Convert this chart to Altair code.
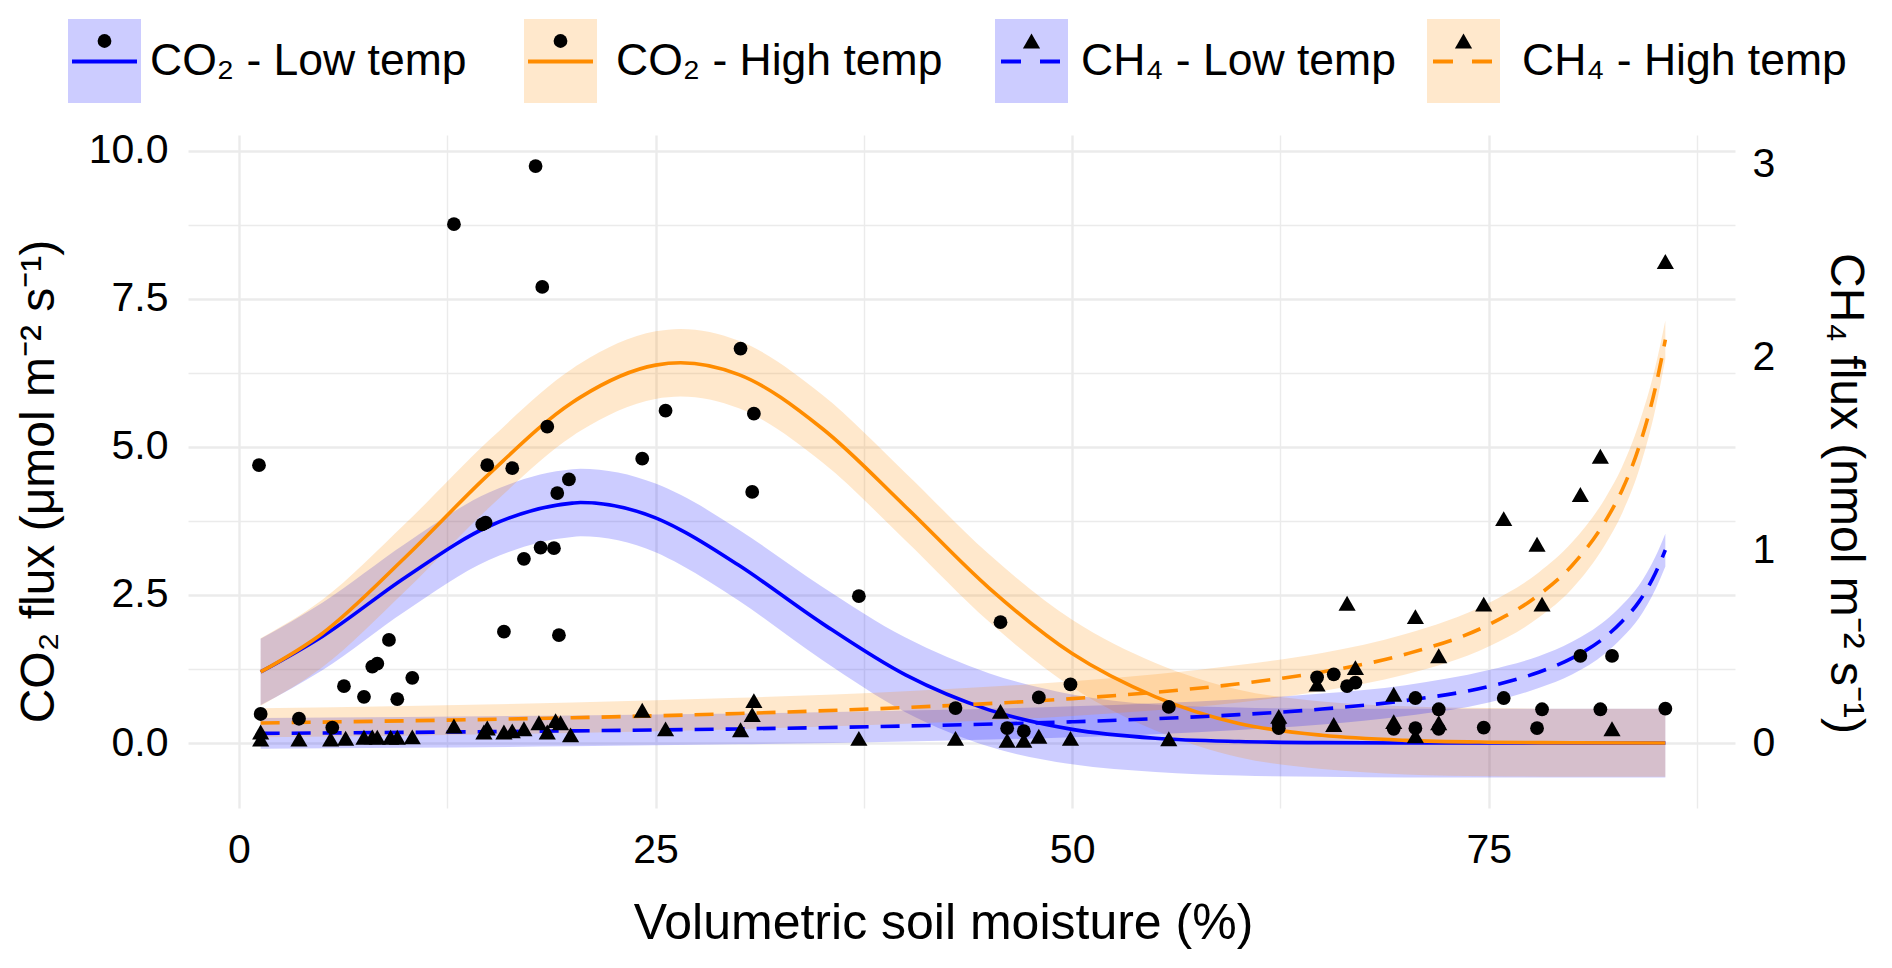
import altair as alt
import pandas as pd

co2_moist = [1.2, 1.3, 3.6, 5.6, 6.3, 7.5, 8.0, 8.3, 9.0, 9.5,
             10.4, 12.9, 14.6, 14.8, 14.9, 15.9, 16.4, 17.1, 17.8, 18.1,
             18.2, 18.5, 18.9, 19.1, 19.2, 19.8, 24.2, 25.6, 30.1, 30.8,
             30.9, 37.2, 43.0, 45.7, 46.1, 47.1, 48.0, 49.9, 55.8, 62.4,
             62.4, 64.7, 65.7, 66.5, 67.0, 69.3, 70.6, 70.6, 72.0, 72.0,
             74.7, 75.9, 77.9, 78.2, 80.5, 81.7, 82.4, 85.6]
co2_flux = [4.69, 0.49, 0.41, 0.26, 0.96, 0.78, 1.29, 1.34, 1.74, 0.74,
            1.10, 8.76, 3.69, 3.72, 4.69, 1.88, 4.64, 3.11, 9.74, 3.30,
            7.70, 5.34, 3.29, 4.22, 1.82, 4.45, 4.80, 5.61, 6.66, 4.24,
            5.56, 2.48, 0.59, 2.04, 0.25, 0.20, 0.77, 0.99, 0.61, 0.25,
            0.32, 1.11, 1.16, 0.96, 1.02, 0.24, 0.76, 0.25, 0.57, 0.24,
            0.26, 0.76, 0.25, 0.57, 1.47, 0.57, 1.47, 0.58]

ch4_moist = [1.3, 1.3, 3.6, 5.5, 6.4, 7.5, 8.0, 8.3, 9.1, 9.5,
             10.4, 12.9, 14.7, 14.9, 15.9, 16.4, 17.1, 18.0, 18.5, 19.0,
             19.3, 19.9, 24.2, 25.6, 30.1, 30.8, 30.9, 37.2, 43.0, 45.7,
             46.1, 47.1, 48.0, 49.9, 55.8, 62.4, 64.7, 65.7, 66.5, 67.0,
             69.3, 69.3, 70.6, 70.6, 72.0, 72.0, 74.7, 75.9, 77.9, 78.2,
             80.5, 81.7, 82.4, 85.6]
ch4_flux = [0.057, 0.020, 0.020, 0.020, 0.025, 0.030, 0.032, 0.030, 0.030, 0.030,
            0.032, 0.088, 0.057, 0.078, 0.057, 0.063, 0.074, 0.105, 0.057, 0.116,
            0.105, 0.042, 0.170, 0.073, 0.069, 0.147, 0.220, 0.024, 0.024, 0.164,
            0.014, 0.014, 0.035, 0.024, 0.022, 0.138, 0.305, 0.096, 0.724, 0.391,
            0.253, 0.111, 0.655, 0.037, 0.452, 0.105, 0.720, 1.163, 1.030, 0.720,
            1.288, 1.486, 0.074, 2.495]

# ---------------- fitted curves and bands ----------------
co2_fit_x = [1.3, 5, 10, 15, 20, 20.5, 25, 26.5, 30, 35,
             40, 45, 50, 55, 60, 65, 70, 75, 80, 85.6]
co2_low_fit = [1.20, 1.80, 2.80, 3.66, 4.05, 4.06, 3.80, 3.60, 3.00, 2.02,
               1.15, 0.56, 0.23, 0.08, 0.025, 0.006, 0.001, 0.0, 0.0, 0.0]
co2_low_lo = [0.64, 1.23, 2.23, 3.09, 3.48, 3.49, 3.22, 3.01, 2.40, 1.40,
              0.52, -0.06, -0.36, -0.49, -0.55, -0.57, -0.58, -0.58, -0.58, -0.58]
co2_low_hi = [1.76, 2.37, 3.37, 4.23, 4.62, 4.63, 4.38, 4.19, 3.60, 2.64,
              1.78, 1.18, 0.82, 0.65, 0.60, 0.58, 0.58, 0.58, 0.58, 0.58]
co2_high_fit = [1.20, 1.85, 3.14, 4.54, 5.75, 5.84, 6.38, 6.42, 6.22, 5.31,
                3.99, 2.62, 1.51, 0.78, 0.33, 0.13, 0.045, 0.014, 0.004, 0.0]
co2_high_lo = [0.63, 1.28, 2.57, 3.97, 5.18, 5.27, 5.81, 5.85, 5.65, 4.74,
               3.42, 2.05, 0.94, 0.21, -0.24, -0.44, -0.53, -0.56, -0.57, -0.57]
co2_high_hi = [1.77, 2.42, 3.71, 5.11, 6.32, 6.41, 6.95, 6.99, 6.79, 5.88,
               4.56, 3.19, 2.08, 1.35, 0.90, 0.70, 0.62, 0.59, 0.58, 0.58]

ch4_fit_x = [1.3, 10, 20, 30, 40, 50, 55, 60, 65, 70,
             75, 78, 80, 82, 83, 84, 85, 85.6]
ch4_low_fit = [0.050, 0.055, 0.063, 0.073, 0.088, 0.110, 0.126, 0.147, 0.176, 0.220,
               0.293, 0.367, 0.440, 0.550, 0.630, 0.730, 0.880, 1.000]
ch4_low_lo = [-0.030, -0.025, -0.017, -0.007, 0.008, 0.030, 0.046, 0.067, 0.096, 0.140,
              0.210, 0.285, 0.355, 0.465, 0.545, 0.645, 0.795, 0.915]
ch4_low_hi = [0.130, 0.135, 0.143, 0.153, 0.168, 0.190, 0.206, 0.227, 0.256, 0.300,
              0.378, 0.450, 0.525, 0.635, 0.715, 0.815, 0.965, 1.085]
ch4_high_fit = [0.104, 0.115, 0.131, 0.153, 0.184, 0.230, 0.263, 0.307, 0.368, 0.460,
                0.613, 0.767, 0.920, 1.150, 1.310, 1.530, 1.840, 2.090]
ch4_high_lo = [0.030, 0.038, 0.052, 0.072, 0.100, 0.140, 0.170, 0.210, 0.270, 0.355,
               0.500, 0.650, 0.800, 1.030, 1.190, 1.410, 1.730, 1.990]
ch4_high_hi = [0.180, 0.192, 0.210, 0.234, 0.268, 0.320, 0.356, 0.404, 0.466, 0.565,
               0.726, 0.884, 1.040, 1.270, 1.430, 1.650, 1.950, 2.190]

# ---------------- axes ----------------
x_ticks = [0, 12.5, 25, 37.5, 50, 62.5, 75, 87.5]
y_ticks = [0, 1.25, 2.5, 3.75, 5, 6.25, 7.5, 8.75, 10]
y2_ticks = [0, 1, 2, 3]
legend_labels = ["CO\u2082 - Low temp", "CO\u2082 - High temp",
                 "CH\u2084 - Low temp", "CH\u2084 - High temp"]

# ---------------- style / layout constants ----------------
FONT = "Liberation Sans"
BLUE = "#0000FF"
ORANGE = "#FF8C00"
GRID = "#EBEBEB"
K = 3.258  # CO2 units per CH4 unit (secondary-axis ratio)
X_DOMAIN = [-3.06, 89.78]
Y_DOMAIN = [-1.097, 10.265]
Y2_DOMAIN = [Y_DOMAIN[0] / K, Y_DOMAIN[1] / K]
PLOT_W, PLOT_H = 1547, 673
CIRCLE_SIZE, TRI_SIZE = 190, 295
LINE_W = 3.6

XS = alt.Scale(domain=X_DOMAIN, nice=False, zero=False)
YS = alt.Scale(domain=Y_DOMAIN, nice=False, zero=False)
Y2S = alt.Scale(domain=Y2_DOMAIN, nice=False, zero=False)

common_axis = dict(ticks=False, tickSize=0, domain=False, labelFont=FONT,
                   labelFontSize=41, labelColor="black", titleFont=FONT,
                   titleColor="black", titleFontWeight="normal",
                   labelOverlap=False, labelFlush=False)

x_axis = alt.Axis(values=x_ticks, title="Volumetric soil moisture (%)",
                  labelExpr="datum.value % 25 === 0 ? datum.label : ''",
                  grid=True, gridColor=GRID,
                  gridWidth={"condition": {"test": "datum.value % 25 === 0", "value": 2.4}, "value": 1.4},
                  labelPadding=22, titlePadding=28, titleFontSize=50, titleX=755,
                  **common_axis)
y_axis = alt.Axis(values=y_ticks, orient="left",
                  title="CO\u2082 flux (\u03bcmol m\u207b\u00b2 s\u207b\u00b9)",
                  labelExpr="datum.value % 2.5 === 0 ? format(datum.value, '.1f') : ''",
                  grid=True, gridColor=GRID,
                  gridWidth={"condition": {"test": "datum.value % 2.5 === 0", "value": 2.4}, "value": 1.4},
                  labelPadding=20, titlePadding=25, titleFontSize=48, titleY=346,
                  **common_axis)
y2_axis = alt.Axis(values=y2_ticks, orient="right", grid=False,
                   title="CH\u2084 flux (nmol m\u207b\u00b2 s\u207b\u00b9)",
                   labelPadding=17, titlePadding=46, titleFontSize=48, titleY=358,
                   **common_axis)

# ---------------- data frames ----------------
co2_pts = pd.DataFrame({"x": co2_moist, "y": co2_flux})
ch4_pts = pd.DataFrame({"x": ch4_moist, "v": ch4_flux})
co2_low = pd.DataFrame({"x": co2_fit_x, "y": co2_low_fit, "lo": co2_low_lo, "hi": co2_low_hi})
co2_high = pd.DataFrame({"x": co2_fit_x, "y": co2_high_fit, "lo": co2_high_lo, "hi": co2_high_hi})
ch4_low = pd.DataFrame({"x": ch4_fit_x, "v": ch4_low_fit, "vlo": ch4_low_lo, "vhi": ch4_low_hi})
ch4_high = pd.DataFrame({"x": ch4_fit_x, "v": ch4_high_fit, "vlo": ch4_high_lo, "vhi": ch4_high_hi})


def X():
    return alt.X("x:Q", scale=XS, axis=x_axis)


def Yf(field):
    return alt.Y(f"{field}:Q", scale=YS, axis=y_axis)


def co2_band(df, color):
    return alt.Chart(df).mark_area(color=color, opacity=0.2, interpolate="monotone").encode(
        x=X(), y=Yf("lo"), y2="hi:Q")


def ch4_band(df, color):
    return alt.Chart(df).transform_calculate(
        lo=f"datum.vlo * {K}", hi=f"datum.vhi * {K}"
    ).mark_area(color=color, opacity=0.2, interpolate="monotone").encode(
        x=X(), y=Yf("lo"), y2="hi:Q")


def co2_line(df, color):
    return alt.Chart(df).mark_line(color=color, strokeWidth=LINE_W, interpolate="monotone").encode(
        x=X(), y=Yf("y"))


def ch4_line(df, color):
    return alt.Chart(df).transform_calculate(y=f"datum.v * {K}").mark_line(
        color=color, strokeWidth=LINE_W, strokeDash=[19, 12], interpolate="monotone"
    ).encode(x=X(), y=Yf("y"))


circles = alt.Chart(co2_pts).mark_point(filled=True, shape="circle", size=CIRCLE_SIZE,
                                        color="black", opacity=1).encode(x=X(), y=Yf("y"))
triangles = alt.Chart(ch4_pts).transform_calculate(y=f"datum.v * {K}").mark_point(
    filled=True, shape="triangle-up", size=TRI_SIZE, color="black", opacity=1
).encode(x=X(), y=Yf("y"))

# ---------------- legend (drawn above the plot area) ----------------
LEG_BOX_LEFT = [-120, 336, 807, 1239]
LEG_TEXT_LEFT = [-38, 428, 893, 1334]
LEG_BOX_W = 73
LEG_BOX_TOP, LEG_BOX_BOTTOM = -116, -32
LEG_LINE_Y, LEG_SYM_Y = -73.5, -94
leg_fill = [BLUE, ORANGE, BLUE, ORANGE]
leg_dashed = [False, False, True, True]
leg_shape = ["circle", "circle", "triangle-up", "triangle-up"]
leg_size = [CIRCLE_SIZE, CIRCLE_SIZE, TRI_SIZE, TRI_SIZE]

legend_layers = []
for i, lab in enumerate(legend_labels):
    base = alt.Chart(pd.DataFrame({"label": [lab]}))
    bx = LEG_BOX_LEFT[i]
    legend_layers.append(base.mark_rect(color=leg_fill[i], opacity=0.2).encode(
        x=alt.value(bx), x2=alt.value(bx + LEG_BOX_W),
        y=alt.value(LEG_BOX_TOP), y2=alt.value(LEG_BOX_BOTTOM)))
    if leg_dashed[i]:
        legend_layers.append(base.mark_rule(color=leg_fill[i], strokeWidth=4, strokeDash=[20, 19]).encode(
            x=alt.value(bx + 6), x2=alt.value(bx + 65), y=alt.value(LEG_LINE_Y)))
    else:
        legend_layers.append(base.mark_rule(color=leg_fill[i], strokeWidth=4).encode(
            x=alt.value(bx + 4), x2=alt.value(bx + LEG_BOX_W - 4), y=alt.value(LEG_LINE_Y)))
    legend_layers.append(base.mark_point(filled=True, shape=leg_shape[i], size=leg_size[i],
                                         color="black", opacity=1).encode(
        x=alt.value(bx + LEG_BOX_W / 2), y=alt.value(LEG_SYM_Y)))
    legend_layers.append(base.mark_text(align="left", baseline="middle", font=FONT,
                                        fontSize=44.5, color="black").encode(
        x=alt.value(LEG_TEXT_LEFT[i]), y=alt.value(LEG_LINE_Y), text="label:N"))

main = alt.layer(
    co2_band(co2_low, BLUE), co2_band(co2_high, ORANGE),
    ch4_band(ch4_low, BLUE), ch4_band(ch4_high, ORANGE),
    co2_line(co2_low, BLUE), co2_line(co2_high, ORANGE),
    ch4_line(ch4_low, BLUE), ch4_line(ch4_high, ORANGE),
    circles, triangles, *legend_layers
)

right_axis = alt.Chart(ch4_pts).mark_point(opacity=0).encode(
    x=X(), y=alt.Y("v:Q", scale=Y2S, axis=y2_axis))

chart = alt.layer(main, right_axis).resolve_scale(y="independent").properties(
    width=PLOT_W, height=PLOT_H,
    autosize=alt.AutoSizeParams(type="none"),
    padding={"left": 180, "top": 127, "right": 149, "bottom": 148},
    background="white",
).configure_view(strokeWidth=0)

chart.save("out.html", embed_options={"renderer": "svg", "actions": False})
